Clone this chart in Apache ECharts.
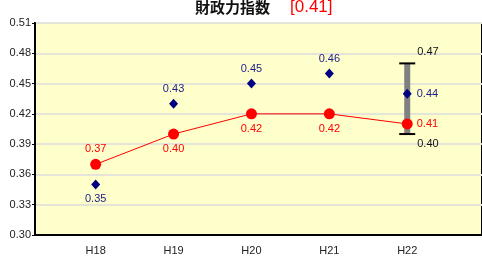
<!DOCTYPE html>
<html>
<head>
<meta charset="utf-8">
<script src="https://cdn.jsdelivr.net/npm/echarts@6/dist/echarts.min.js"></script>
<style>
  html, body { margin: 0; padding: 0; background: #fff; }
  #chart { width: 482px; height: 263px; }
</style>
</head>
<body>
<div id="chart"></div>
<script>
const categories = ['H18', 'H19', 'H20', 'H21', 'H22']
const cityIndex = [0.37, 0.40, 0.42, 0.42, 0.41]
const groupAverage = [0.35, 0.43, 0.45, 0.46, 0.44]
const rangeLow = 0.40
const rangeHigh = 0.47
const yTicks = { min: 0.30, max: 0.51, step: 0.03 }

const FONT = 'Liberation Sans, Arial, sans-serif'
const lastValue = cityIndex[cityIndex.length - 1]

// label placement per point (style only)
const redPos = ['top', 'bottom', 'bottom', 'bottom', 'right']
const bluePos = ['bottom', 'top', 'top', 'top', 'right']

const chart = echarts.init(document.getElementById('chart'), null, { renderer: 'canvas' })

const option = {
  animation: false,
  backgroundColor: '#ffffff',
  title: {
    text: '{a|財政力指数}    {b|[' + lastValue.toFixed(2) + ']}',
    left: 190,
    top: -7,
    textStyle: {
      fontWeight: 'normal',
      rich: {
        a: { fontFamily: 'Noto Sans CJK JP', fontWeight: 'bold', fontSize: 15, color: '#111' },
        b: { fontFamily: FONT, fontWeight: 'normal', fontSize: 17, color: '#ff0000' }
      }
    }
  },
  grid: {
    left: 35,
    right: -6,
    top: 23,
    bottom: 28,
    show: true,
    backgroundColor: '#ffffcc',
    borderColor: '#000',
    borderWidth: 2
  },
  xAxis: {
    type: 'value',
    min: -0.779,
    max: 4.96,
    axisLine: { show: true, onZero: false, lineStyle: { color: '#000', width: 2 } },
    axisTick: { show: false },
    splitLine: { show: false },
    axisLabel: {
      color: '#222',
      fontFamily: FONT,
      fontSize: 11,
      margin: 10,
      customValues: categories.map((c, i) => i),
      formatter: v => categories[Math.round(v)] || ''
    }
  },
  yAxis: {
    type: 'value',
    min: yTicks.min,
    max: yTicks.max,
    interval: yTicks.step,
    axisLine: { show: true, onZero: false, lineStyle: { color: '#000', width: 2 } },
    axisTick: { show: true, length: 3, lineStyle: { color: '#000' } },
    splitLine: { show: true, lineStyle: { color: '#e4e4d8', width: 2 } },
    axisLabel: {
      color: '#222',
      fontFamily: FONT,
      fontSize: 11,
      margin: 4,
      formatter: v => v.toFixed(2)
    }
  },
  series: [
    {
      name: 'range',
      type: 'custom',
      z: 1,
      data: [[categories.length - 1, rangeLow, rangeHigh]],
      renderItem: (params, api) => {
        const top = api.coord([api.value(0), api.value(2)])
        const bot = api.coord([api.value(0), api.value(1)])
        const cx = top[0]
        return {
          type: 'group',
          children: [
            { type: 'rect', shape: { x: cx - 3, y: top[1], width: 6, height: bot[1] - top[1] }, style: { fill: '#808080' } },
            { type: 'line', shape: { x1: cx - 8, y1: top[1], x2: cx + 8, y2: top[1] }, style: { stroke: '#000', lineWidth: 2 } },
            { type: 'line', shape: { x1: cx - 8, y1: bot[1], x2: cx + 8, y2: bot[1] }, style: { stroke: '#000', lineWidth: 2 } },
            { type: 'text', x: cx + 10, y: top[1] - 11, style: { text: api.value(2).toFixed(2), fill: '#111', font: '11px ' + FONT, verticalAlign: 'middle' } },
            { type: 'text', x: cx + 10, y: bot[1] + 10, style: { text: api.value(1).toFixed(2), fill: '#111', font: '11px ' + FONT, verticalAlign: 'middle' } }
          ]
        }
      }
    },
    {
      name: 'group',
      type: 'scatter',
      z: 3,
      symbol: 'diamond',
      symbolSize: [9, 10],
      itemStyle: { color: '#000080', opacity: 1 },
      data: groupAverage.map((v, i) => ({
        value: [i, v],
        label: {
          show: true,
          position: bluePos[i],
          distance: bluePos[i] === 'right' ? 5 : 4,
          formatter: p => p.value[1].toFixed(2),
          color: '#1c1c8a',
          fontFamily: FONT,
          fontSize: 11
        }
      }))
    },
    {
      name: 'city',
      type: 'line',
      z: 4,
      symbol: 'circle',
      symbolSize: 11,
      lineStyle: { color: '#ff0000', width: 1 },
      itemStyle: { color: '#ff0000' },
      data: cityIndex.map((v, i) => ({
        value: [i, v],
        label: {
          show: true,
          position: redPos[i],
          distance: 4,
          formatter: p => p.value[1].toFixed(2),
          color: '#ff0000',
          fontFamily: FONT,
          fontSize: 11
        }
      }))
    }
  ]
}

chart.setOption(option)
</script>
</body>
</html>
